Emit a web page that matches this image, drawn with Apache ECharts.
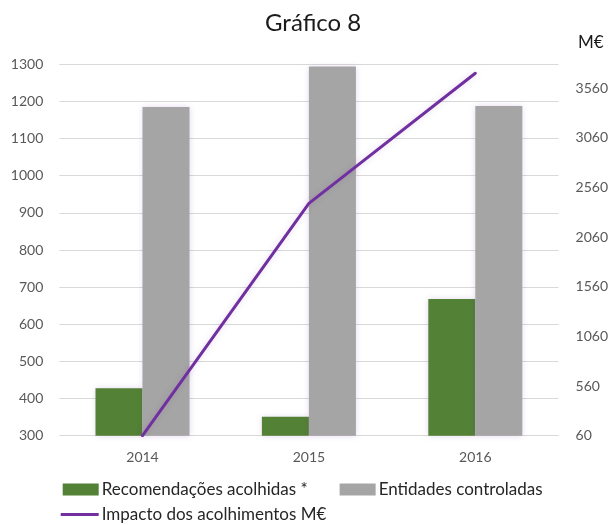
<!DOCTYPE html>
<html>
<head>
<meta charset="utf-8">
<script src="https://cdn.jsdelivr.net/npm/echarts@6/dist/echarts.min.js"></script>
<style>
  html, body { margin: 0; padding: 0; background: #fff; }
  #chart { width: 611px; height: 525px; }
</style>
</head>
<body>
<div id="chart"></div>
<script>
const categories = ['2014', '2015', '2016'];
const recomendacoes = [428, 351, 668];
const entidades = [1185, 1294, 1188];
const impacto = [60, 2400, 3710];
const leftMin = 300, leftMax = 1300, leftStep = 100;
const rightMin = 60, rightMax = 3800, rightStep = 500;

const FONT = 'Lato';
const chart = echarts.init(document.getElementById('chart'), null, { renderer: 'canvas' });
const glow = { shadowColor: 'rgba(112,48,160,0.18)', shadowBlur: 6 };
const plain = v => String(v);

chart.setOption({
  backgroundColor: '#ffffff',
  animation: false,
  title: {
    text: 'Gráfico 8',
    left: 265,
    top: 11,
    padding: 0,
    textStyle: { fontFamily: FONT, fontSize: 24, fontWeight: 'normal', color: '#1a1a1a' }
  },
  graphic: [{
    type: 'text',
    left: 578,
    top: 34,
    style: { text: 'M€', font: '17px Lato', fill: '#1a1a1a' }
  }],
  grid: { left: 59.3, right: 51.7, top: 64.3, bottom: 89.3, containLabel: false },
  legend: [{
    data: ['Recomendações acolhidas *', 'Entidades controladas'],
    left: 62.7, top: 481, padding: 0,
    itemWidth: 36, itemHeight: 12, itemGap: 32,
    icon: 'rect',
    textStyle: { fontFamily: FONT, fontSize: 17, color: '#262626', padding: [0, 0, 0, -2] }
  }, {
    data: [{ name: 'Impacto dos acolhimentos M€', icon: 'rect' }],
    left: 60.7, top: 506, padding: 0,
    itemWidth: 38, itemHeight: 3,
    textStyle: { fontFamily: FONT, fontSize: 17, color: '#262626', padding: [0, 0, 0, -2] }
  }],
  xAxis: {
    type: 'category',
    data: categories,
    axisLine: { show: false },
    axisTick: { show: false },
    axisLabel: { fontFamily: FONT, fontSize: 14, color: '#595959', margin: 15 }
  },
  yAxis: [{
    type: 'value',
    min: leftMin, max: leftMax, interval: leftStep,
    axisLine: { show: false },
    axisTick: { show: false },
    splitLine: { lineStyle: { color: '#d9d9d9', width: 1 } },
    axisLabel: { fontFamily: FONT, fontSize: 14, color: '#595959', margin: 16, formatter: plain }
  }, {
    type: 'value',
    min: rightMin, max: rightMax, interval: rightStep,
    axisLine: { show: false },
    axisTick: { show: false },
    splitLine: { show: false },
    axisLabel: { fontFamily: FONT, fontSize: 14, color: '#595959', margin: 17, showMaxLabel: false, formatter: plain }
  }],
  series: [{
    name: 'Recomendações acolhidas *',
    type: 'bar',
    data: recomendacoes,
    barWidth: 47,
    barGap: '0%',
    itemStyle: Object.assign({ color: '#538135' }, glow)
  }, {
    name: 'Entidades controladas',
    type: 'bar',
    data: entidades,
    barWidth: 47,
    barGap: '0%',
    itemStyle: Object.assign({ color: '#a5a5a5' }, glow)
  }, {
    name: 'Impacto dos acolhimentos M€',
    type: 'line',
    yAxisIndex: 1,
    data: impacto,
    symbol: 'none',
    itemStyle: { color: '#7030a0' },
    lineStyle: Object.assign({ color: '#7030a0', width: 3, cap: 'round' }, glow)
  }]
});
</script>
</body>
</html>
